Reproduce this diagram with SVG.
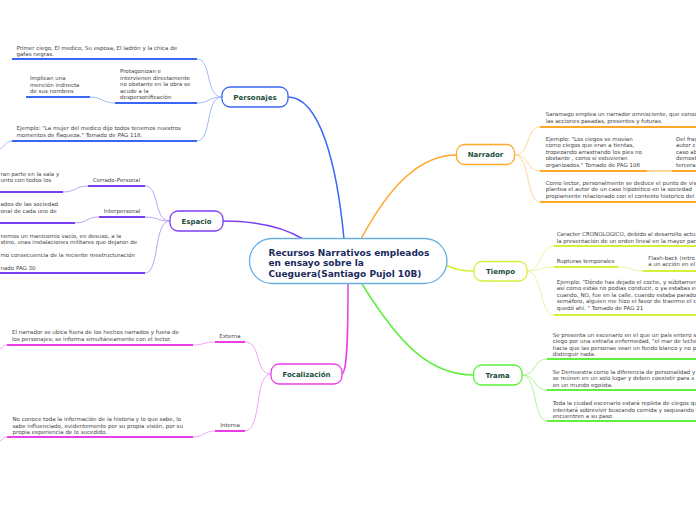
<svg xmlns="http://www.w3.org/2000/svg" width="696" height="520" viewBox="0 0 696 520">
<style>
.t{font-family:"DejaVu Sans",Verdana,sans-serif;font-size:5.5px;fill:#444}
.n{font-family:"DejaVu Sans",Verdana,sans-serif;font-size:7px;font-weight:bold;fill:#1d4d3c;text-anchor:middle}
.c{font-family:"DejaVu Sans",Verdana,sans-serif;font-size:9px;font-weight:bold;fill:#1b2a5c}
.u{fill:none;stroke-width:2}
.l{fill:none;stroke-width:1}
.m{fill:none;stroke-width:1.5}
.box{fill:#fff;stroke-width:1.3}
.blue{stroke:#3a66f5}.lblue{stroke:#a3b9fb}
.org{stroke:#ffa62b}.lorg{stroke:#ffd79a}
.pur{stroke:#7c3ff0}.lpur{stroke:#bba3f7}
.yel{stroke:#d6f03a}.lyel{stroke:#e9f7a0}
.mag{stroke:#e83ee8}.lmag{stroke:#f3a6f3}
.grn{stroke:#5ef03a}.lgrn{stroke:#aef596}
</style>
<rect width="696" height="520" fill="#fff"/>
<g id="connectors">
<path class="m blue" d="M288,97 C320,97 337,165 344,239"/>
<path class="m org" d="M361,239 C390,185 420,155 457,155"/>
<path class="m pur" d="M223,221 C262,221 285,228 303,239"/>
<path class="m yel" d="M440,262 C455,270 462,271 474,271"/>
<path class="m mag" d="M348,284 C348,340 347,372 342,374"/>
<path class="m grn" d="M362,284 C400,345 430,375 474,375"/>
<!-- Personajes -->
<path class="l lblue" d="M222,97 C205,97 212,59 197,59"/>
<path class="l lblue" d="M222,97 C208,97 210,103 197,103"/>
<path class="l lblue" d="M222,97 C205,97 212,141 197,141"/>
<path class="l lblue" d="M115,103 C102,103 103,97 90,97"/>
<path class="l lblue" d="M12,141 C5,141 4,148 0,149"/>
<path class="u blue" d="M12,59 H197 M115,103 H197 M26,97 H90 M12,141 H197"/>
<!-- Espacio -->
<path class="l lpur" d="M170,221 C153,221 160,186 145,186"/>
<path class="l lpur" d="M170,221 C158,221 157,217 145,217"/>
<path class="l lpur" d="M170,221 C153,221 160,273 145,273"/>
<path class="l lpur" d="M88,186 C75,186 76,192 63,192"/>
<path class="l lpur" d="M99,217 C86,217 88,223 75,223"/>
<path class="u pur" d="M88,186 H145 M0,192 H63 M99,217 H145 M0,223 H75 M0,273 H145"/>
<!-- Focalizacion -->
<path class="l lmag" d="M271,374 C254,374 262,342 245,342"/>
<path class="l lmag" d="M271,374 C254,374 262,431 245,431"/>
<path class="l lmag" d="M215,342 C204,342 204,345 193,345"/>
<path class="l lmag" d="M215,431 C204,431 204,437 193,437"/>
<path class="l lmag" d="M7,345 C3,345 3,348 0,349"/>
<path class="l lmag" d="M7,437 C3,437 3,440 0,441"/>
<path class="u mag" d="M215,342 H245 M7,345 H193 M215,431 H245 M7,437 H193"/>
<!-- Narrador -->
<path class="l lorg" d="M515,155 C530,155 526,127 540,127"/>
<path class="l lorg" d="M515,155 C530,155 526,171 540,171"/>
<path class="l lorg" d="M515,155 C530,155 526,202 540,202"/>
<path class="l lorg" d="M647,171 H672" style="stroke-width:2"/>
<path class="u org" d="M540,127 H696 M540,171 H647 M672,171 H696 M540,202 H696"/>
<!-- Tiempo -->
<path class="l lyel" d="M527,271 C542,271 540,246 554,246"/>
<path class="l lyel" d="M527,271 C542,271 540,267 554,267"/>
<path class="l lyel" d="M527,271 C542,271 540,315 554,315"/>
<path class="l lyel" d="M618,267 C631,267 630,271 643,271"/>
<path class="u yel" d="M554,246 H696 M554,267 H618 M643,271 H696 M554,315 H696"/>
<!-- Trama -->
<path class="l lgrn" d="M522,375 C537,375 533,359 547,359"/>
<path class="l lgrn" d="M522,375 C537,375 533,390 547,390"/>
<path class="l lgrn" d="M522,375 C537,375 533,421 547,421"/>
<path class="u grn" d="M547,359 H696 M547,390 H696 M547,421 H696"/>
</g>
<g id="central">
<rect class="box" x="249.5" y="238.5" width="197.5" height="45" rx="22.5" style="stroke:#6aaee0"/>
<text class="c" x="268.5" y="255.5">Recursos Narrativos empleados</text>
<text class="c" x="268.5" y="266">en ensayo sobre la</text>
<text class="c" x="268.5" y="276.5">Cueguera(Santiago Pujol 10B)</text>
</g>
<g id="personajes">
<rect class="box blue" x="222" y="87" width="66" height="20" rx="8"/>
<text class="n" x="255" y="99.5">Personajes</text>
<text class="t" x="16.5" y="49.5">Primer ciego, El medico, Su esposa, El ladrón y la chica de</text>
<text class="t" x="16.5" y="56">gafas negras.</text>
<text class="t" x="120" y="73">Protagonizan e</text>
<text class="t" x="120" y="79.5">intervienen directamente</text>
<text class="t" x="120" y="86">no obstante en la obra se</text>
<text class="t" x="120" y="92.5">acude a la</text>
<text class="t" x="120" y="99">despersonificación</text>
<text class="t" x="30" y="80">Implican una</text>
<text class="t" x="30" y="86.5">mención indirecta</text>
<text class="t" x="30" y="93">de sus nombres</text>
<text class="t" x="16.5" y="130">Ejemplo: "La mujer del medico dijo todos tenemos nuestros</text>
<text class="t" x="16.5" y="136.5">momentos de flaqueza." Tomado de PAG 118.</text>
</g>
<g id="espacio">
<rect class="box pur" x="170" y="211" width="53" height="20" rx="8"/>
<text class="n" x="196.5" y="223.5">Espacio</text>
<text class="t" x="116.5" y="182" text-anchor="middle">Cerrado-Personal</text>
<text class="t" x="0.5" y="175.5">ran parte en la sala y</text>
<text class="t" x="0.5" y="182">unto con todos los</text>
<text class="t" x="122" y="212.7" text-anchor="middle">Interpersonal</text>
<text class="t" x="0.5" y="205.5">ados de las sociedad</text>
<text class="t" x="0.5" y="212.5">onal de cada uno de</text>
<text class="t" x="0.5" y="237.7">nemos un manicomio vacío, en desuso, a la</text>
<text class="t" x="0.5" y="244">stino, unas instalaciones militares que dejaron de</text>
<text class="t" x="0.5" y="257">mo consecuencia de la reciente reestructuración</text>
<text class="t" x="0.5" y="270">nado PAG 30</text>
</g>
<g id="focalizacion">
<rect class="box mag" x="271" y="364" width="71" height="20" rx="8"/>
<text class="n" x="306.5" y="376.5">Focalización</text>
<text class="t" x="230" y="338" text-anchor="middle">Externa</text>
<text class="t" x="12" y="334.3">El narrador se ubica fuera de los hechos narrados y fuera de</text>
<text class="t" x="12" y="341">los personajes; se informa simultáneamente con el lector.</text>
<text class="t" x="230" y="427" text-anchor="middle">Interna</text>
<text class="t" x="12.5" y="421.3">No conoce toda la información de la historia y lo que sabe, lo</text>
<text class="t" x="12.5" y="427.6">sabe influenciado, evidentemente por su propia visión, por su</text>
<text class="t" x="12.5" y="434">propia experiencia de lo sucedido.</text>
</g>
<g id="narrador">
<rect class="box org" x="456.5" y="144.5" width="58" height="20" rx="8"/>
<text class="n" x="485.5" y="157">Narrador</text>
<text class="t" x="545.7" y="116.3">Saramago emplea un narrador omnisciente, que conoc</text>
<text class="t" x="545.7" y="123">las acciones pasadas, presentes y futuras.</text>
<text class="t" x="545.7" y="140.7">Ejemplo: "Los ciegos se movían</text>
<text class="t" x="545.7" y="147">como ciegos que eran a tientas,</text>
<text class="t" x="545.7" y="153.5">tropezando arrastrando los pies no</text>
<text class="t" x="545.7" y="160">obstante , como si estuvieran</text>
<text class="t" x="545.7" y="166.5">organizados." Tomado de PAG 106</text>
<text class="t" x="676" y="140.7">Del frag</text>
<text class="t" x="676" y="147">autor c</text>
<text class="t" x="676" y="153.5">caso ab</text>
<text class="t" x="676" y="160">demost</text>
<text class="t" x="676" y="166.5">tercera</text>
<text class="t" x="545.7" y="184.7">Como lector, personalmente se deduce el punto de vis</text>
<text class="t" x="545.7" y="191.3">plantea el autor de un caso hipotético en la sociedad</text>
<text class="t" x="545.7" y="198">propiamente relacionado con el contexto historico del</text>
</g>
<g id="tiempo">
<rect class="box yel" x="474" y="261.5" width="53" height="19.5" rx="8"/>
<text class="n" x="500.5" y="273.5">Tiempo</text>
<text class="t" x="556.7" y="236.3">Caracter CRONOLOGICO, debido al desarrollo actu</text>
<text class="t" x="556.7" y="242.5">la presentación de un orden lineal en la mayor par</text>
<text class="t" x="556.7" y="263">Rupturas temporales</text>
<text class="t" x="648.3" y="259.7">Flash-back (retro</text>
<text class="t" x="648.3" y="266.3">a un acción en el</text>
<text class="t" x="556.7" y="283.7">Ejemplo: "Dónde has dejado el coche, y súbitamen</text>
<text class="t" x="556.7" y="290">así como estás no podías conducir, o ya estabas en</text>
<text class="t" x="556.7" y="296.5">cuando, NO, fue en la calle, cuando estaba parado</text>
<text class="t" x="556.7" y="303">semáforo, alguien me hizo el favor de traerme el c</text>
<text class="t" x="556.7" y="309.5">quedó ahí. " Tomado de PAG 21</text>
</g>
<g id="trama">
<rect class="box grn" x="473.5" y="365" width="48.5" height="20" rx="8"/>
<text class="n" x="497.7" y="377.5">Trama</text>
<text class="t" x="552.7" y="336.7">Se presenta un escenario en el que un país entero s</text>
<text class="t" x="552.7" y="343">ciego por una extraña enfermedad, "el mar de leche</text>
<text class="t" x="552.7" y="349.5">hacia que las personas vean un fondo blanco y no p</text>
<text class="t" x="552.7" y="356">distinguir nada.</text>
<text class="t" x="552.7" y="374">Se Demuestra como la diferencia de personalidad y</text>
<text class="t" x="552.7" y="380.3">se reúnen en un solo lugar y deben coexistir para s</text>
<text class="t" x="552.7" y="386.7">en un mundo egoista.</text>
<text class="t" x="552.7" y="405.3">Toda la ciudad escenario estará repleta de ciegos qu</text>
<text class="t" x="552.7" y="411.5">intentará sobrevivir buscando comida y saqueando l</text>
<text class="t" x="552.7" y="417.7">encuentren a su paso</text>
</g>
</svg>
